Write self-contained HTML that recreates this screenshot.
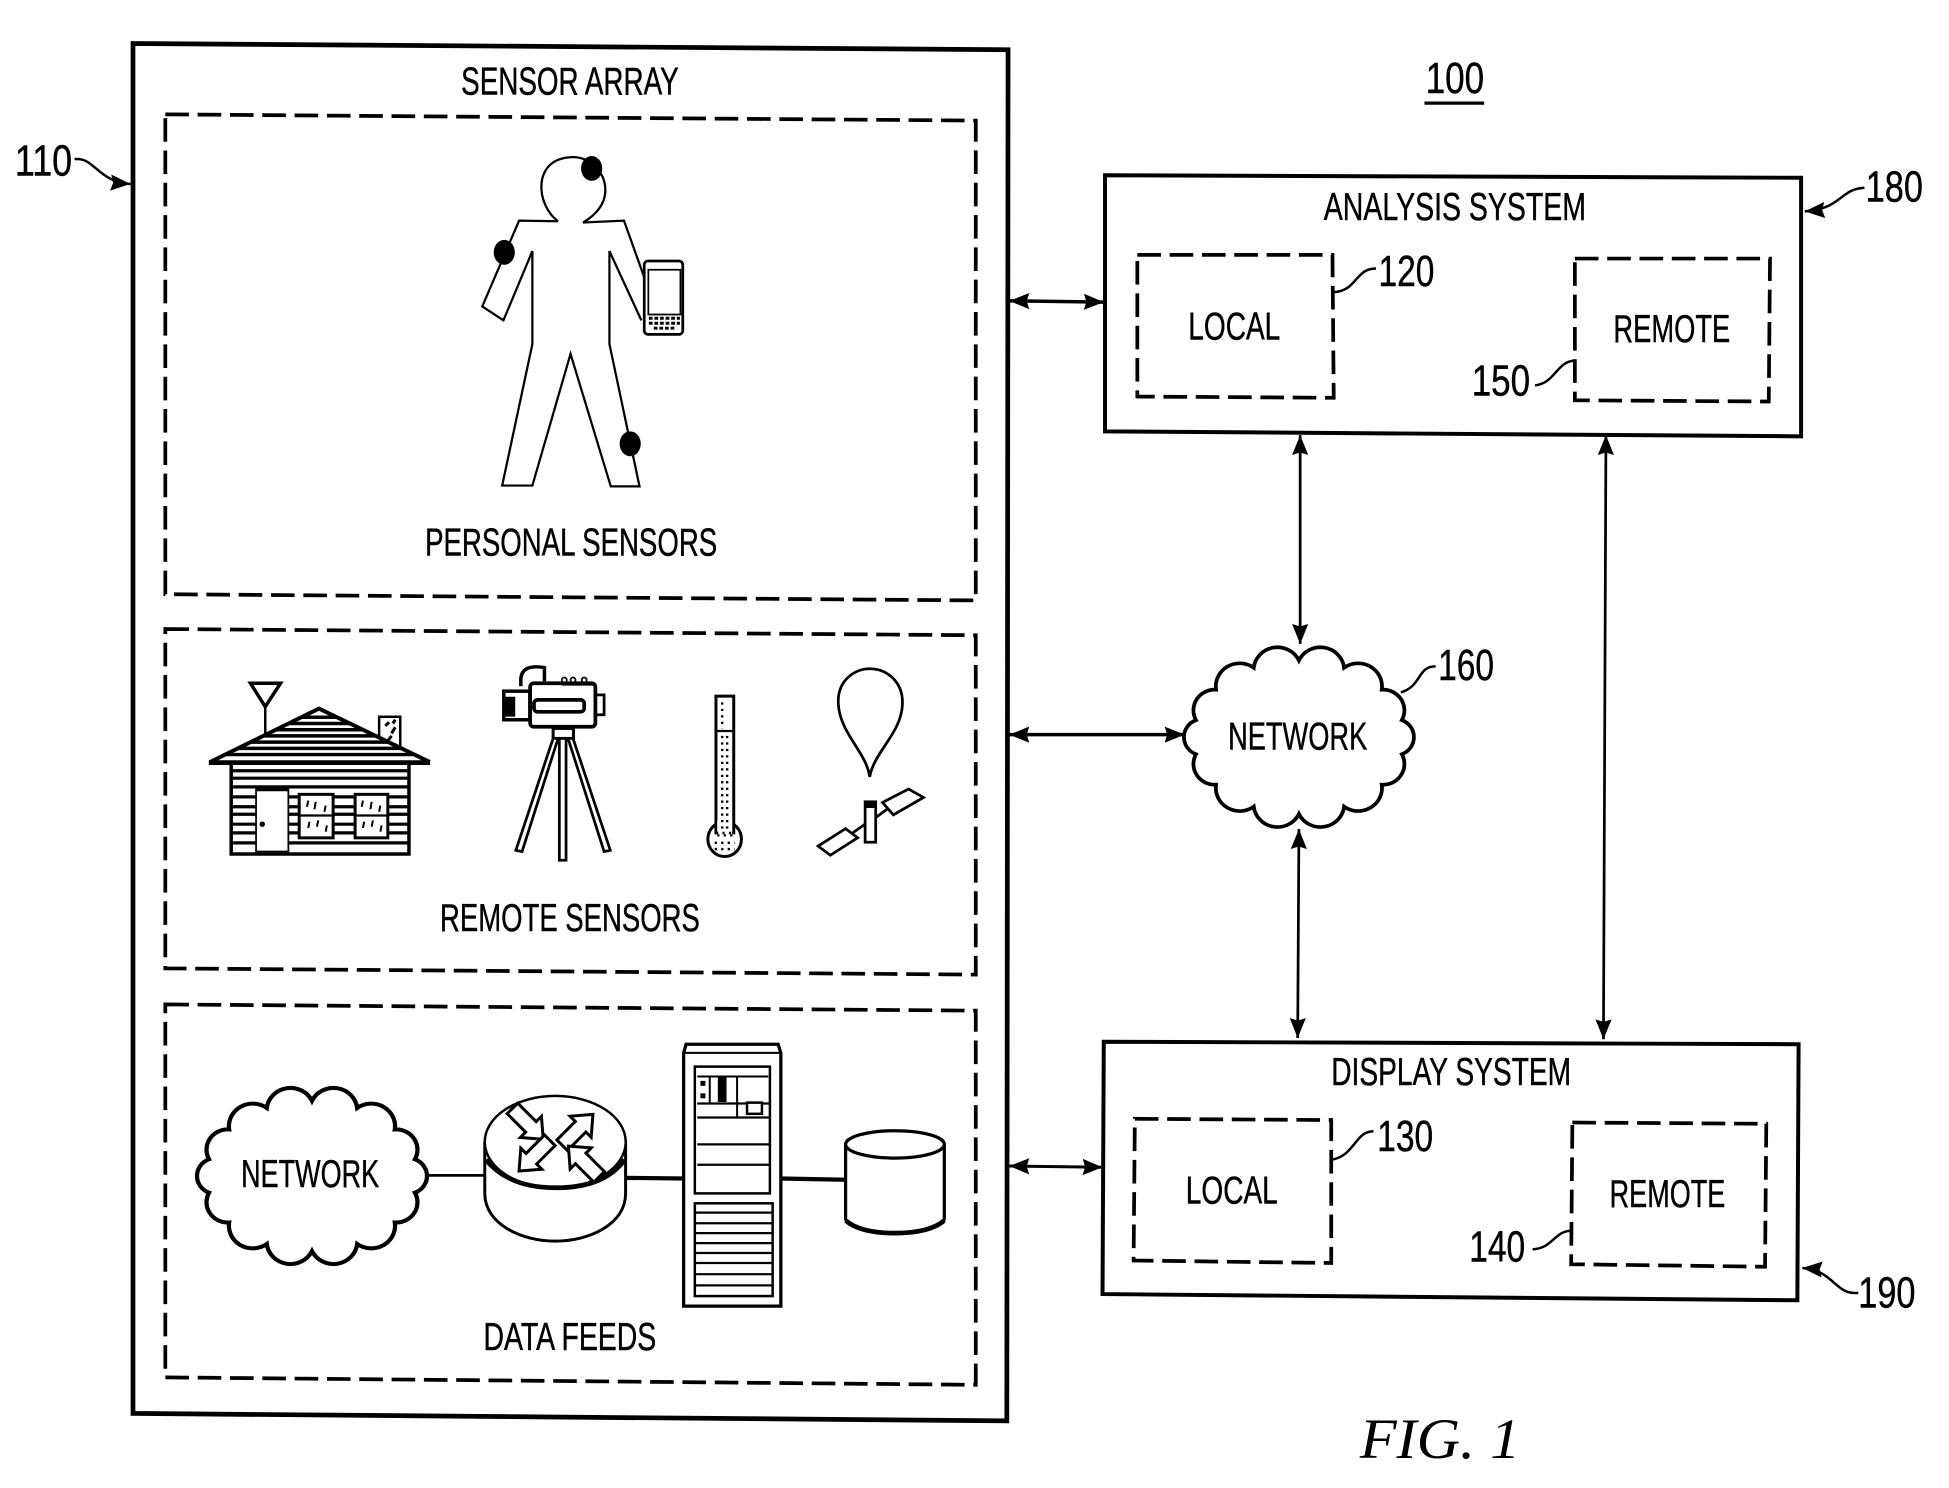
<!DOCTYPE html>
<html><head><meta charset="utf-8"><title>FIG. 1</title>
<style>
html,body{margin:0;padding:0;background:#fff}
svg{display:block}
text{font-family:"Liberation Sans",sans-serif;font-size:31px;fill:#000;stroke:#000;stroke-width:.35}
text.n{font-size:35px}
.s{fill:none;stroke:#000}
</style></head><body>
<svg width="1949" height="1488" viewBox="0 0 1568 1197" preserveAspectRatio="none" xmlns="http://www.w3.org/2000/svg">
<defs>
<marker id="a" markerUnits="userSpaceOnUse" markerWidth="17" markerHeight="14" refX="16" refY="7" orient="auto-start-reverse"><path d="M0,0.5L16,7L0,13.5L2,7Z" fill="#000"/></marker>
<path id="cloud" d="M0,-63A19,19 0 0 1 36,-57A19,19 0 0 1 66,-39A17,17 0 0 1 82,-14A15,15 0 0 1 82,14A17,17 0 0 1 66,39A19,19 0 0 1 36,57A19,19 0 0 1 0,63A19,19 0 0 1 -36,57A19,19 0 0 1 -66,39A17,17 0 0 1 -82,14A15,15 0 0 1 -82,-14A17,17 0 0 1 -66,-39A19,19 0 0 1 -36,-57A19,19 0 0 1 0,-63Z"/>
<polygon id="blk" points="-18,-6 3,-6 3,-12 17,0 3,12 3,6 -18,6"/>
<clipPath id="roof"><polygon points="256.6,569.4 169,613 345.8,613"/></clipPath>
</defs>
<rect width="1568" height="1197" fill="#fff"/>

<!-- main boxes -->
<polygon class="s" stroke-width="3.8" points="107,35 811,40 810,1143 107,1137"/>
<polygon class="s" stroke-width="3.2" points="889,141 1449,143 1449,351 889,347"/>
<polygon class="s" stroke-width="3.2" points="888,838 1447,840 1446,1046 887,1041"/>

<!-- dashed boxes -->
<g class="s" stroke-width="3" stroke-dasharray="19 7">
<polygon points="133,92 785,97 785,483 133,478"/>
<polygon points="133,506 785,511 785,784 133,779"/>
<polygon points="133,808 785,813 785,1114 133,1108"/>
<polygon points="915,205 1072,205 1073,320 915,319"/>
<polygon points="1267,208 1424,208 1423,323 1267,322"/>
<polygon points="913,900 1071,901 1071,1016 912,1014"/>
<polygon points="1265,903 1421,904 1420,1019 1264,1017"/>
</g>

<!-- connectors -->
<g class="s">
<line stroke-width="2.8" x1="812" y1="242" x2="888" y2="243" marker-start="url(#a)" marker-end="url(#a)"/>
<line stroke-width="2.8" x1="812" y1="591" x2="953" y2="591" marker-start="url(#a)" marker-end="url(#a)"/>
<line stroke-width="2.4" x1="812" y1="938" x2="887" y2="939" marker-start="url(#a)" marker-end="url(#a)"/>
<line stroke-width="2.2" x1="1046" y1="350" x2="1046" y2="518" marker-start="url(#a)" marker-end="url(#a)"/>
<line stroke-width="2.2" x1="1045" y1="667" x2="1044" y2="835" marker-start="url(#a)" marker-end="url(#a)"/>
<line stroke-width="2.2" x1="1292" y1="350" x2="1290" y2="836" marker-start="url(#a)" marker-end="url(#a)"/>
</g>

<!-- clouds -->
<use href="#cloud" transform="translate(1045,593) scale(1.01,.98)" fill="#fff" stroke="#000" stroke-width="3"/>
<use href="#cloud" transform="translate(251,946) scale(1.01,.96)" fill="#fff" stroke="#000" stroke-width="3.4"/>

<!-- leaders -->
<g class="s" stroke-width="2">
<path d="M60,128C76,126 78,146 105,148" marker-end="url(#a)"/>
<path d="M1500,151C1480,152 1482,168 1452,170" marker-end="url(#a)"/>
<path d="M1495,1040C1476,1042 1476,1022 1450,1020" marker-end="url(#a)"/>
<path d="M1107,216C1090,216 1092,234 1073,235"/>
<path d="M1268,290C1252,290 1252,308 1235,310"/>
<path d="M1105,910C1090,910 1090,930 1071,933"/>
<path d="M1265,990C1250,990 1250,1004 1233,1005"/>
<path d="M1155,536C1140,536 1144,552 1127,557"/>
</g>
<line x1="1146" y1="83" x2="1194" y2="83" stroke="#000" stroke-width="2.6"/>

<!-- person -->
<g class="s" stroke-width="1.8">
<path d="M449,178C431,165 428,128 459,126.500C474,125.500 487,138 487,153C487,165 478,174 469,179"/>
<polyline points="449,178 417.6,177.500 388,246.500 405,257.700 428.300,202 428.300,276.800 404,390.600 428.300,390.600 459,284.700 491.400,391.300 514.500,391.300 490.300,276.700 490.300,202 516,257.700"/>
<polyline points="469,179 502,177.500 519,225"/>
</g>
<ellipse cx="476" cy="135.500" rx="8.500" ry="10" fill="#000"/>
<ellipse cx="405.700" cy="203" rx="8.500" ry="10" fill="#000"/>
<ellipse cx="507" cy="357" rx="8.500" ry="10" fill="#000"/>
<rect x="518.300" y="210" width="31" height="59" rx="3" fill="#fff" stroke="#000" stroke-width="2.200"/>
<rect x="521.600" y="217" width="25.800" height="36" fill="#fff" stroke="#000" stroke-width="1.400"/>
<path d="M522,256H547M522,260H547M526,264H543" stroke="#000" stroke-width="2.400" stroke-dasharray="3 1.500"/>

<!-- house -->
<path d="M213.400,568.500V590" stroke="#000" stroke-width="2"/>
<polygon points="201.500,549.600 225.700,549.600 213.400,568.500" fill="#fff" stroke="#000" stroke-width="2.800"/>
<rect x="305" y="576.600" width="17" height="26" fill="#fff" stroke="#000" stroke-width="2"/>
<path d="M310,584l3,-3M315,590l3,-5M312,596l3,-4M316,582l2,-3" stroke="#000" stroke-width="2.400"/>
<rect x="186" y="613" width="143" height="74" fill="#fff" stroke="#000" stroke-width="2.800"/>
<path d="M186,620H329M186,626H329M186,633H329M186,641H329M186,649H329M186,655H329M186,663H329M186,670H329M186,678H329" stroke="#000" stroke-width="2.600"/>
<polygon points="256.600,569.400 169,613 345.800,613" fill="#fff"/>
<g clip-path="url(#roof)" stroke="#000" stroke-width="2.800">
<path d="M160,577H350M160,582H350M160,587H350M160,592H350M160,597H350M160,602H350M160,607H350"/>
</g>
<polyline class="s" stroke-width="3.200" points="169,613 256.600,570 345.800,613"/>
<line x1="168" y1="613.500" x2="346" y2="613.500" stroke="#000" stroke-width="3.800"/>
<rect x="206" y="635" width="26" height="50" fill="#fff" stroke="#000" stroke-width="1.400"/>
<line x1="206" y1="635" x2="232" y2="635" stroke="#000" stroke-width="3"/>
<circle cx="211" cy="663" r="2.200" fill="#000"/>
<g fill="#fff" stroke="#000" stroke-width="2.400">
<rect x="240.700" y="639" width="27.300" height="35"/><rect x="285.700" y="639" width="26.300" height="35"/>
</g>
<path d="M240.700,656H268M285.700,656H312" stroke="#000" stroke-width="1.800"/>
<path d="M248,644l-1,5M254,645l-1,6M262,648l-1,5M249,661l-1,5M256,660l-1,5M263,664l-1,5M292,644l-1,5M299,645l-1,6M306,648l-1,5M293,661l-1,5M300,660l-1,5M307,664l-1,5" stroke="#000" stroke-width="1.600"/>

<!-- camera -->
<g stroke="#000" fill="#fff">
<path d="M438,548V537Q420,534 419,546V552" class="s" stroke-width="2.800"/>
<rect x="405.300" y="556" width="21" height="23" stroke-width="2.800"/>
<rect x="405" y="561" width="9" height="15" fill="#000"/>
<rect x="479" y="559" width="7" height="16" stroke-width="2.200"/>
<rect x="426.500" y="549.600" width="52.500" height="35" rx="3" stroke-width="3"/>
<rect x="429.600" y="563" width="40.400" height="9.600" rx="3" stroke-width="3"/>
<path d="M452,550H478" stroke-width="3"/>
<circle cx="454" cy="547" r="2" stroke-width="1.400"/><circle cx="461" cy="547" r="2" stroke-width="1.400"/><circle cx="470" cy="547" r="2" stroke-width="1.400"/>
<rect x="445" y="586" width="16.400" height="8" stroke-width="2.400"/>
<polygon points="445,594 449,594 420,685 415,684" stroke-width="2.200"/>
<polygon points="457,594 461,594 491,684 486,685" stroke-width="2.200"/>
<rect x="450" y="594" width="5.400" height="98" stroke-width="2.200"/>
</g>

<!-- thermometer -->
<ellipse cx="583" cy="675" rx="13.500" ry="14" fill="#fff" stroke="#000" stroke-width="2.400"/>
<rect x="576" y="560" width="14.300" height="110" fill="#fff" stroke="#000" stroke-width="2.400"/>
<rect x="577" y="660" width="12" height="12" fill="#fff"/>
<line x1="576" y1="588" x2="590" y2="588" stroke="#000" stroke-width="1.800"/>
<path d="M581,565V586M585,592V668M581,592V668M576,670H590M577,672H590M575,678H591M575,683H591" stroke="#000" stroke-width="1.900" stroke-dasharray="1.800 3.400"/>

<!-- balloon / satellite -->
<path class="s" stroke-width="2.200" d="M699.700,625C697,605 676,590 674.500,567C673,548 687,538 699.700,538C713,538 727,548 726,567C725,590 703,605 699.700,625Z"/>
<polygon fill="#fff" stroke="#000" stroke-width="2.200" points="710,645.500 731,634.700 743,641.500 718.700,655.500"/>
<polygon fill="#fff" stroke="#000" stroke-width="2.200" points="658.200,680.600 680.300,666.600 690,673.900 668,688"/>
<path d="M686,670L696,663M704,658L715,650" stroke="#000" stroke-width="2.200"/>
<rect x="696" y="645" width="8.500" height="32.500" fill="#fff" stroke="#000" stroke-width="2.200"/>
<rect x="696" y="645" width="8.500" height="5" fill="#000"/>

<!-- feed connections -->
<path d="M344,945.500H390" stroke="#000" stroke-width="2.200"/>
<path d="M503,947.500L550,948" stroke="#000" stroke-width="3.400"/>
<path d="M628,948L680,949" stroke="#000" stroke-width="3.400"/>

<!-- router -->
<path d="M390,918.600V960C390,985 420,998.400 446.700,998.400C474,998.400 503.300,985 503.300,960V918.600" fill="#fff" stroke="#000" stroke-width="2.400"/>
<ellipse cx="446.700" cy="918.600" rx="56.700" ry="37" fill="#fff" stroke="#000" stroke-width="2"/>
<path d="M391,933C405,950 425,955.500 446.700,955.500C470,955.500 490,950 502.500,933" class="s" stroke-width="3.800"/>
<g fill="#fff" stroke="#000" stroke-width="2.400">
<use href="#blk" transform="translate(425,904.400) rotate(45)"/>
<use href="#blk" transform="translate(465,908.500) rotate(-45)"/>
<use href="#blk" transform="translate(429.600,930) rotate(135)"/>
<use href="#blk" transform="translate(469.300,934) rotate(-135)"/>
</g>

<!-- server -->
<g stroke="#000">
<path d="M550,847L552,840H626L628.200,847V1050.700H550Z" fill="#fff" stroke-width="2.600"/>
<line x1="550" y1="847" x2="628" y2="847" stroke-width="1.600"/>
<path d="M559,858H619.400V960H559Z" fill="#fff" stroke-width="2"/>
<path d="M561,887.700H619M561,899H619M561,920.600H619M561,937H619" stroke-width="1.800" fill="none"/>
<path d="M593,866V899M561,866H618M571,866V887" stroke-width="1.600" fill="none"/>
<rect x="578" y="866" width="6" height="20" fill="#000"/>
<rect x="601" y="887" width="12" height="9" fill="#fff" stroke-width="2"/>
<rect x="564" y="870" width="3" height="3" fill="#000"/>
<rect x="564" y="880" width="3" height="3" fill="#000"/>
<rect x="559" y="968" width="62.600" height="74.600" fill="#fff" stroke-width="2"/>
<path d="M559,975.500H622M559,984H622M559,992H622M559,1000H622M559,1008H622M559,1016H622M559,1025H622M559,1034H622" stroke-width="1.800" fill="none"/>
</g>

<!-- drum -->
<path d="M680.300,920.600V980C680.300,987 700,992 720,992C740,992 759.700,987 759.700,980V920.600" fill="#fff" stroke="#000" stroke-width="2.600"/>
<ellipse cx="720" cy="920.600" rx="39.700" ry="11" fill="#fff" stroke="#000" stroke-width="2.600"/>
<path d="M680.500,982C690,990 705,992 720,992C735,992 750,990 759.500,982" class="s" stroke-width="3.800"/>

<!-- text -->
<g>
<text x="371" y="76" textLength="175" lengthAdjust="spacingAndGlyphs">SENSOR ARRAY</text>
<text x="342" y="447" textLength="235" lengthAdjust="spacingAndGlyphs">PERSONAL SENSORS</text>
<text x="354" y="749" textLength="209" lengthAdjust="spacingAndGlyphs">REMOTE SENSORS</text>
<text x="389" y="1086" textLength="139" lengthAdjust="spacingAndGlyphs">DATA FEEDS</text>
<text x="194" y="955" textLength="111" lengthAdjust="spacingAndGlyphs">NETWORK</text>
<text x="988" y="603" textLength="112" lengthAdjust="spacingAndGlyphs">NETWORK</text>
<text class="n" x="12" y="141" textLength="46" lengthAdjust="spacingAndGlyphs">110</text>
<text class="n" x="1147" y="75" textLength="47" lengthAdjust="spacingAndGlyphs">100</text>
<text x="1065" y="177" textLength="211" lengthAdjust="spacingAndGlyphs">ANALYSIS SYSTEM</text>
<text x="956" y="273" textLength="74" lengthAdjust="spacingAndGlyphs">LOCAL</text>
<text x="1298" y="275" textLength="94" lengthAdjust="spacingAndGlyphs">REMOTE</text>
<text class="n" x="1109" y="230" textLength="45" lengthAdjust="spacingAndGlyphs">120</text>
<text class="n" x="1184" y="318" textLength="47" lengthAdjust="spacingAndGlyphs">150</text>
<text class="n" x="1501" y="162" textLength="46" lengthAdjust="spacingAndGlyphs">180</text>
<text x="1071" y="873" textLength="193" lengthAdjust="spacingAndGlyphs">DISPLAY SYSTEM</text>
<text x="954" y="968" textLength="74" lengthAdjust="spacingAndGlyphs">LOCAL</text>
<text x="1295" y="971" textLength="93" lengthAdjust="spacingAndGlyphs">REMOTE</text>
<text class="n" x="1108" y="926" textLength="45" lengthAdjust="spacingAndGlyphs">130</text>
<text class="n" x="1182" y="1015" textLength="45" lengthAdjust="spacingAndGlyphs">140</text>
<text class="n" x="1495" y="1052" textLength="46" lengthAdjust="spacingAndGlyphs">190</text>
<text class="n" x="1157" y="547" textLength="45" lengthAdjust="spacingAndGlyphs">160</text>
<text x="1094" y="1173" textLength="129" lengthAdjust="spacingAndGlyphs" style="font-family:'Liberation Serif',serif;font-style:italic;font-size:46px;stroke-width:0">FIG. 1</text>
</g>
</svg>
</body></html>
